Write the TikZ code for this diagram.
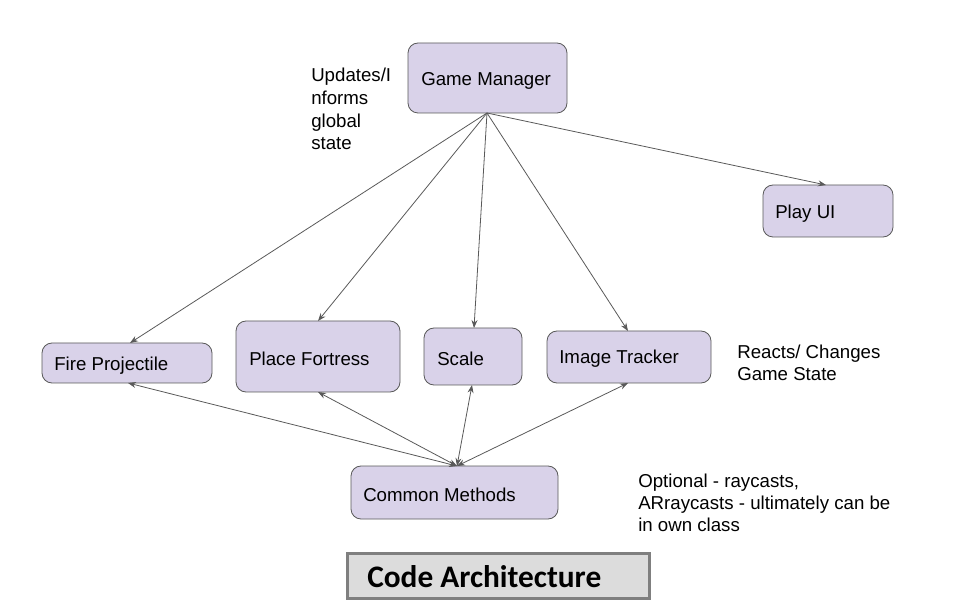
\documentclass[tikz,border=0pt]{standalone}
\usepackage{fontspec}
\setmainfont{Liberation Sans}
\newfontfamily\titlefont{Carlito}
\usetikzlibrary{arrows.meta}
\definecolor{boxfill}{HTML}{D9D2E9}
\definecolor{boxline}{HTML}{595959}
\definecolor{arrowc}{HTML}{595959}
\definecolor{titlefill}{HTML}{DCDCDC}
\definecolor{titleline}{HTML}{7F7F7F}
\begin{document}
\begin{tikzpicture}[x=0.75pt,y=-0.75pt,
  box/.style={draw=boxline,fill=boxfill,rounded corners=7.5pt,line width=0.6pt},
  lbl/.style={anchor=west,inner sep=0pt,font=\fontsize{14}{16.5}\selectfont},
  note/.style={anchor=north west,inner sep=0pt,align=left,font=\fontsize{14}{16.5}\selectfont},
  conn/.style={draw=arrowc,line width=0.6pt,-{Stealth[length=6pt,width=4.5pt]}},
  bconn/.style={draw=arrowc,line width=0.6pt,{Stealth[length=6pt,width=4.5pt]}-{Stealth[length=6pt,width=4.5pt]}}]
\useasboundingbox (0,0) rectangle (960,609);
% boxes
\path[box] (408,43) rectangle (567,113);
\node[lbl] (gm) at (421,81) {Game Manager};
\path[box] (763,185) rectangle (893,237);
\node[lbl] (ui) at (775,214) {Play UI};
\path[box] (42,343) rectangle (212,383);
\node[lbl] (fp) at (54,366) {Fire Projectile};
\path[box] (236,321) rectangle (400,392);
\node[lbl] (pf) at (249,359) {Place Fortress};
\path[box] (424,328) rectangle (522,385);
\node[lbl] (sc) at (437,359) {Scale};
\path[box] (547,331) rectangle (711,383);
\node[lbl] (it) at (559,359) {Image Tracker};
\path[box] (351,466) rectangle (558,519);
\node[lbl] (cm) at (363,495) {Common Methods};
% anchor coordinates
\coordinate (gmb) at (487,113);
\coordinate (uit) at (826,185);
\coordinate (fpt) at (130,343);
\coordinate (pft) at (318,321);
\coordinate (sct) at (474,328);
\coordinate (itt) at (628,331);
\coordinate (fpb) at (128,383);
\coordinate (pfb) at (318,392);
\coordinate (scb) at (472,385);
\coordinate (itb) at (628,383);
\coordinate (cmt) at (457,466);
% connectors
\draw[conn] (gmb) -- (fpt);
\draw[conn] (gmb) -- (pft);
\draw[conn] (gmb) -- (sct);
\draw[conn] (gmb) -- (itt);
\draw[conn] (gmb) -- (uit);
\draw[bconn] (cmt) -- (fpb);
\draw[bconn] (cmt) -- (pfb);
\draw[bconn] (cmt) -- (scb);
\draw[bconn] (cmt) -- (itb);
% notes
\node[note] (n1) at (311,68) {Updates/I\\[0.5pt]nforms\\[0.5pt]global\\[0.5pt]state};
\node[note] (n2) at (737,345) {Reacts/ Changes\\Game State};
\node[note] (n3) at (638,474) {Optional - raycasts,\\ARraycasts - ultimately can be\\in own class};
% title
\path[draw=titleline,line width=2.2pt,fill=titlefill] (347.5,553.5) rectangle (649.5,598.5);
\node[anchor=west,inner sep=0pt,font=\titlefont\bfseries\fontsize{23.5}{26}\selectfont] (tt) at (367,577) {Code Architecture};
\end{tikzpicture}
\end{document}
